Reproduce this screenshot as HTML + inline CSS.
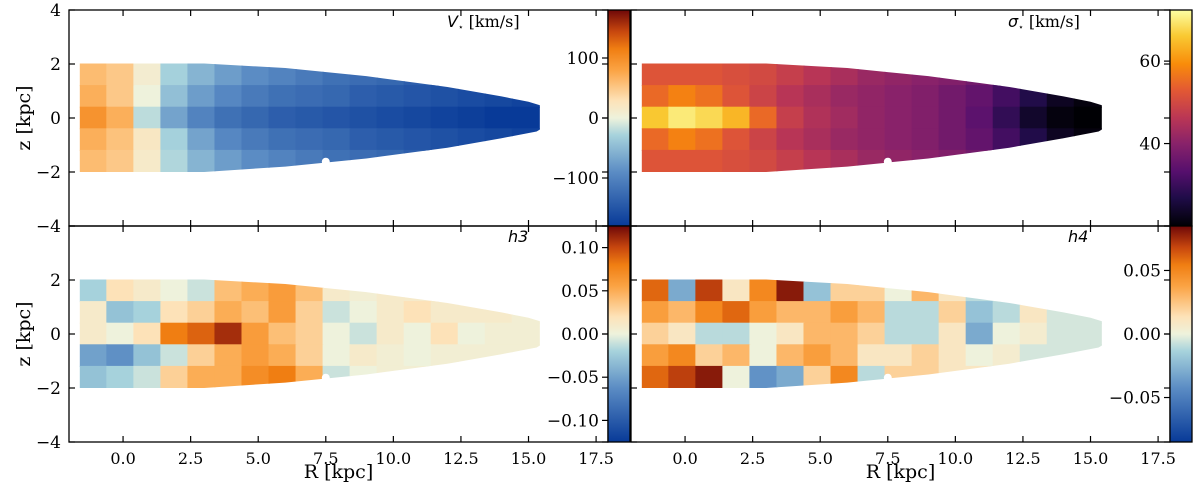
<!DOCTYPE html>
<html><head><meta charset="utf-8"><style>
body{margin:0;background:#fff;}
svg text{font-family:"DejaVu Serif","Liberation Serif",serif;fill:#000;}
</style></head><body>
<svg id="fig" width="1200" height="493" viewBox="0 0 1200 493" xmlns="http://www.w3.org/2000/svg"></svg>
<script>
const rCenters=[-1.1,-0.1,0.9,1.9,2.9,3.9,4.9,5.9,6.9,7.9,8.9,9.9,10.9,11.9,12.9,13.9,14.9];
const zCenters=[1.6,0.8,0,-0.8,-1.6];
const vValues=[
[60,50,10,-30,-55,-75,-90,-100,-110,-120,-125,-130,-140,-145,-150,-155,-160],
[70,50,0,-45,-75,-95,-110,-120,-125,-130,-140,-145,-150,-155,-160,-165,-170],
[95,70,-20,-70,-100,-120,-130,-140,-145,-150,-155,-160,-165,-170,-175,-180,-180],
[70,55,20,-30,-70,-95,-110,-120,-125,-130,-140,-145,-150,-155,-160,-165,-170],
[60,50,15,-25,-55,-75,-90,-100,-110,-120,-125,-130,-140,-145,-150,-155,-160]];
const sigValues=[
[52,52,52,51,50,48,46,44,42,41,40,39,37,34,31,28,25],
[55,58,56,52,49,46,44,42,41,40,39,37,35,31,27,23,21],
[66,70,68,64,55,48,45,43,41,40,39,37,34,29,24,21,20],
[55,58,56,52,49,46,44,42,41,40,39,37,35,31,27,23,21],
[52,52,52,51,50,48,46,44,42,41,40,39,37,34,31,28,25]];
const h3Values=[
[-0.02,0.02,0.01,0.0,-0.01,0.04,0.05,0.06,0.04,0.01,0.005,0.01,0.01,0.015,0.02,0.01,0.005],
[0.01,-0.03,-0.02,0.02,0.03,0.05,0.04,0.06,0.03,-0.01,0.0,0.01,0.02,0.01,0.01,0.01,0.005],
[0.01,0.0,0.02,0.08,0.09,0.11,0.06,0.04,0.03,0.0,-0.01,0.01,0.0,0.02,0.0,0.005,0.005],
[-0.05,-0.06,-0.03,-0.01,0.03,0.05,0.06,0.05,0.03,0.0,0.01,0.005,0.0,0.005,0.005,0.005,0.005],
[-0.03,-0.02,-0.01,0.03,0.05,0.05,0.07,0.08,0.05,-0.01,0.0,0.005,0.005,0.005,0.005,0.005,0.005]];
const h4Values=[
[0.06,-0.03,0.07,0.01,0.05,0.08,-0.02,0.02,0.02,0.0,0.03,0.01,-0.01,0.0,-0.02,-0.005,-0.005],
[0.04,0.03,0.05,0.06,0.04,0.03,0.03,0.04,0.03,-0.01,-0.01,0.02,-0.02,-0.01,0.01,-0.005,-0.005],
[0.02,0.01,-0.01,-0.01,0.0,0.01,0.03,0.03,0.02,-0.01,-0.01,0.01,-0.03,0.0,0.005,-0.005,-0.005],
[0.04,0.05,0.02,0.03,0.0,0.03,0.04,0.03,0.01,0.01,0.02,0.01,0.0,0.005,-0.005,-0.005,-0.005],
[0.06,0.07,0.08,0.0,-0.04,-0.03,0.02,0.05,-0.01,0.02,0.02,0.01,0.01,0.0,-0.005,-0.005,-0.005]];
const diskOutline=[[-1.6,2.02],[3,2.02],[6,1.85],[9,1.55],[12,1.15],[14,0.8],[15,0.6],[15.5,0.45],[15.8,0.2],[15.8,-0.2],[15.3,-0.5],[14,-0.75],[12,-1.1],[9,-1.5],[6,-1.8],[3,-2.0],[-1.6,-2.0]];
const xTicks=[0,2.5,5,7.5,10,12.5,15,17.5];
const xTickLabels=["0.0","2.5","5.0","7.5","10.0","12.5","15.0","17.5"];
const zTicksTop=[4,2,0,-2,-4];
const zTicksBottom=[2,0,-2,-4];
const vCbTicks=[100,0,-100];
const sigCbTicks=[60,40];
const h3CbTicks=[0.10,0.05,0,-0.05,-0.10];
const h3CbLabels=["0.10","0.05","0.00","\u22120.05","\u22120.10"];
const h4CbTicks=[0.05,0,-0.05];
const h4CbLabels=["0.05","0.00","\u22120.05"];

const NS="http://www.w3.org/2000/svg";
const svg=document.getElementById('fig');
function mk(t,a,p){const e=document.createElementNS(NS,t);for(const k in a)e.setAttribute(k,a[k]);(p||svg).appendChild(e);return e;}
function hex(c){return[parseInt(c.slice(1,3),16),parseInt(c.slice(3,5),16),parseInt(c.slice(5,7),16)];}
function cmap(stops,t){t=Math.max(0,Math.min(1,t));for(let i=1;i<stops.length;i++){if(t<=stops[i][0]){const a=stops[i-1],b=stops[i];const f=(t-a[0])/(b[0]-a[0]);const ca=hex(a[1]),cb=hex(b[1]);return 'rgb('+ca.map((v,j)=>Math.round(v+(cb[j]-v)*f)).join(',')+')';}}return stops[stops.length-1][1];}
const divStops=[[0,'#083a98'],[0.25,'#5b8cc4'],[0.42,'#a6d2dc'],[0.5,'#eef2dc'],[0.58,'#fde2b8'],[0.72,'#fba445'],[0.82,'#f07e12'],[0.9,'#c8470e'],[1,'#6e0808']];
const infStops=[[0,'#000004'],[0.13,'#1f0c48'],[0.25,'#550f6d'],[0.38,'#88226a'],[0.5,'#ba3655'],[0.63,'#e35933'],[0.75,'#f98c0a'],[0.88,'#f9c932'],[1,'#fcffa4']];

const sx=27.03;
const panels=[
 {name:'velocity',x0:69,x1:608,y0:10,y1:226,vals:vValues,min:-180,max:180,stops:divStops,cbx:608,cbt:vCbTicks,cbl:vCbTicks.map(v=>v<0?'\u2212'+(-v):''+v),sym:'V',tx:447,ty:27,left:true,bottom:false},
 {name:'dispersion',x0:631,x1:1170,y0:10,y1:226,vals:sigValues,min:20,max:72.4,stops:infStops,cbx:1170,cbt:sigCbTicks,cbl:sigCbTicks.map(String),sym:'\u03c3',tx:1008,ty:27,left:false,bottom:false},
 {name:'h3',x0:69,x1:608,y0:226,y1:442,vals:h3Values,min:-0.125,max:0.125,stops:divStops,cbx:608,cbt:h3CbTicks,cbl:h3CbLabels,sym:'h3',tx:508,ty:242,left:true,bottom:true},
 {name:'h4',x0:631,x1:1170,y0:226,y1:442,vals:h4Values,min:-0.085,max:0.085,stops:divStops,cbx:1170,cbt:h4CbTicks,cbl:h4CbLabels,sym:'h4',tx:1068,ty:242,left:false,bottom:true}];

panels.forEach((p,pi)=>{
 const X=r=>p.x0+(r+2)*sx;
 const Y=z=>(p.y0+p.y1)/2-z*27;
 const g=mk('g',{});
 
 
 const cid='clip'+pi;
 const cp=mk('clipPath',{id:cid},g);
 mk('polygon',{points:diskOutline.map(d=>X(d[0])+','+Y(d[1])).join(' ')},cp);
 const mg=mk('g',{'clip-path':'url(#'+cid+')'},g);
 
 
 p.vals.forEach((row,ri)=>row.forEach((v,ci)=>{
   const r=mk('rect',{x:X(rCenters[ci]-0.5)-0.5,y:Y(zCenters[ri]+0.4)-0.5,width:sx+1,height:0.8*27+1,fill:cmap(p.stops,(v-p.min)/(p.max-p.min))},mg);
   
   
 }));
 mk('circle',{cx:X(7.5),cy:Y(-1.62),r:4,fill:'#fff'},g);
 mk('circle',{cx:X(12.5),cy:Y(-1.3),r:6,fill:'#fff'},g);
 const fr=mk('rect',{x:p.x0,y:p.y0,width:p.x1-p.x0,height:p.y1-p.y0,fill:'none',stroke:'#000','stroke-width':1.3},g);
 
 
 xTicks.forEach((t,i)=>{
   mk('line',{x1:X(t),x2:X(t),y1:p.y1,y2:p.y1-6,stroke:'#000','stroke-width':1.2},g);
   mk('line',{x1:X(t),x2:X(t),y1:p.y0,y2:p.y0+6,stroke:'#000','stroke-width':1.2},g);
   if(p.bottom){const tl=mk('text',{x:X(t),y:p.y1+22,'font-size':16,'text-anchor':'middle'},g);tl.textContent=xTickLabels[i];
     }
 });
 [4,2,0,-2,-4].forEach(t=>{
   mk('line',{x1:p.x0,x2:p.x0+6,y1:Y(t),y2:Y(t),stroke:'#000','stroke-width':1.2},g);
   mk('line',{x1:p.x1,x2:p.x1-6,y1:Y(t),y2:Y(t),stroke:'#000','stroke-width':1.2},g);
 });
 if(p.left){(p.bottom?zTicksBottom:zTicksTop).forEach(t=>{
   const tl=mk('text',{x:p.x0-8,y:Y(t)+6,'font-size':17,'text-anchor':'end'},g);tl.textContent=t<0?'\u2212'+(-t):''+t;
   });
   const yl=mk('text',{x:30,y:(p.y0+p.y1)/2,'font-size':19,'text-anchor':'middle',transform:'rotate(-90 30 '+((p.y0+p.y1)/2)+')'},g);yl.textContent='z [kpc]';
   }
 if(p.bottom){const xl=mk('text',{x:(p.x0+p.x1)/2,y:478,'font-size':19,'text-anchor':'middle'},g);xl.textContent='R [kpc]';
   }
 const tt=mk('text',{x:p.tx,y:p.ty,'font-size':16},g);
 
 if(p.sym==='h3'||p.sym==='h4'){
   const ts=mk('tspan',{'font-family':'DejaVu Sans, sans-serif','font-style':'italic'},tt);ts.textContent=p.sym;
 } else {
   const ts=mk('tspan',{'font-family':'DejaVu Sans, sans-serif','font-style':'italic'},tt);ts.textContent=p.sym;
   const st=mk('tspan',{'font-size':9,dy:3},tt);st.textContent='\u22c6';
   const un=mk('tspan',{dy:-3},tt);un.textContent=' [km/s]';
 }
 const gid='grad'+pi;
 const gr=mk('linearGradient',{id:gid,x1:0,y1:1,x2:0,y2:0},g);
 p.stops.forEach(s=>mk('stop',{offset:s[0],'stop-color':s[1]},gr));
 const cb=mk('rect',{x:p.cbx,y:p.y0,width:22,height:p.y1-p.y0,fill:'url(#'+gid+')',stroke:'#000','stroke-width':1.3},g);
 
 
 const CY=v=>p.y1-(v-p.min)/(p.max-p.min)*(p.y1-p.y0);
 p.cbt.forEach((t,i)=>{
   mk('line',{x1:p.cbx,x2:p.cbx-6,y1:CY(t),y2:CY(t),stroke:'#000','stroke-width':1.2},g);
   const tl=mk('text',{x:p.cbx-9,y:CY(t)+6,'font-size':17,'text-anchor':'end'},g);tl.textContent=p.cbl[i];
   
 });
});
</script>
</body></html>
